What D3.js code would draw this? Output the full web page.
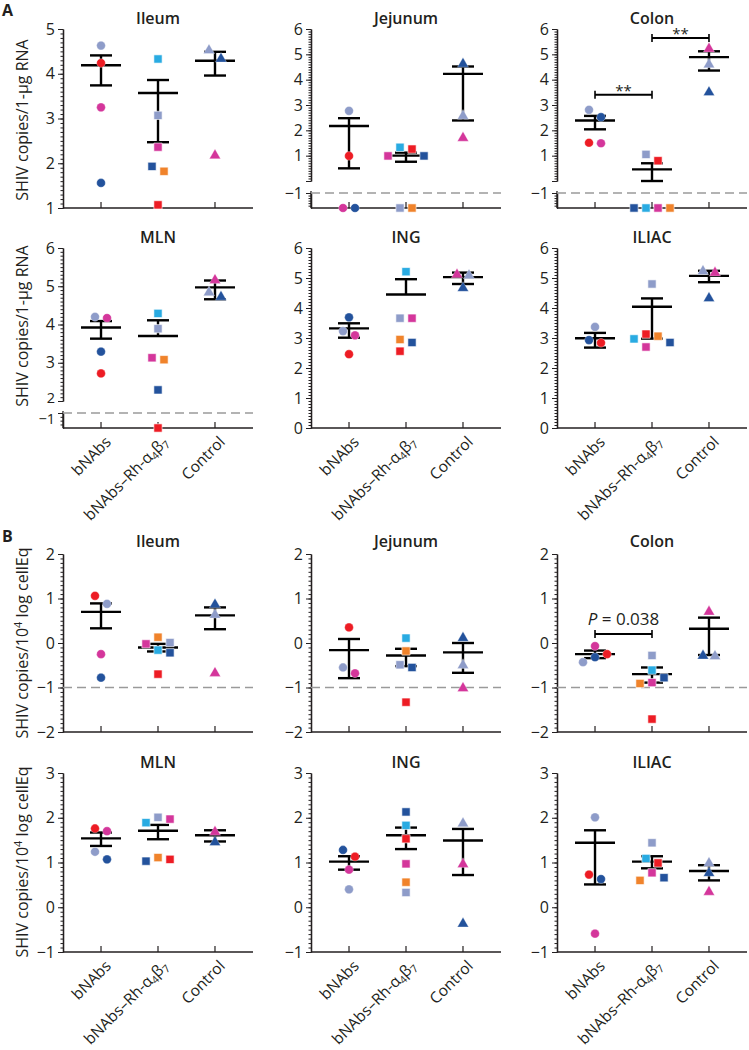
<!DOCTYPE html>
<html><head><meta charset="utf-8">
<script src="https://cdn.jsdelivr.net/npm/d3@7"></script>
<style>body{margin:0;background:#fff} svg{display:block}</style>
</head><body><svg id="c" width="749" height="1050"></svg>
<script>
// ---------- DATA ----------
const groups = ["bNAbs", "bNAbs–Rh-α4β7", "Control"];
const tissues = ["Ileum", "Jejunum", "Colon", "MLN", "ING", "ILIAC"];
const animalsBnabs = ["lav", "red", "mag", "dkb"];
const animalsRh = ["cyn", "lav", "mag", "dkb", "org", "red"];
const animalsCtrl = ["lav", "dkb", "mag"];
// "ND" = below detection (plotted on the baseline), null = no sample
// Panel A: SHIV copies / 1-ug RNA
const A_bnabs = [
  [4.63, 4.24, 3.25, 1.56],
  [2.77, 0.99, "ND", "ND"],
  [2.81, 1.51, 1.49, 2.52],
  [4.20, 2.72, 4.17, 3.29],
  [3.23, 2.46, 3.09, 3.69],
  [3.37, 2.84, null, 2.93]
];
const A_rh = [
  [4.33, 3.07, 2.36, 1.93, 1.82, 1.07],
  [1.33, "ND", 0.99, 0.99, "ND", 1.26],
  ["ND", 1.05, "ND", "ND", "ND", 0.80],
  [4.29, 3.89, 3.13, 2.29, 3.08, "ND"],
  [5.21, 3.66, 3.66, 2.85, 2.95, 2.56],
  [2.97, 4.80, 2.70, 2.85, 3.06, 3.13]
];
const A_ctrl = [
  [4.54, 4.35, 2.19],
  [2.60, 4.65, 1.73],
  [4.63, 3.53, 5.25],
  [4.86, 4.74, 5.18],
  [5.11, 4.69, 5.14],
  [5.25, 4.35, 5.20]
];
const A_mean  = [[4.19, 3.57, 4.29], [2.17, 1.00, 4.23], [2.39, 0.46, 4.89], [3.92, 3.70, 4.97], [3.32, 4.45, 5.03], [2.99, 4.04, 5.07]];
const A_upper = [[4.41, 3.86, 4.49], [2.48, 1.12, 4.52], [2.57, 0.70, 5.12], [4.09, 4.11, 5.15], [3.49, 4.96, 5.18], [3.17, 4.32, 5.24]];
const A_lower = [[3.74, 2.47, 3.96], [0.50, 0.76, 2.39], [2.04, 0.00, 4.36], [3.63, null, 4.66], [3.01, null, 4.80], [2.68, 2.98, 4.86]];
const A_yDomain = [[1, 5], [0, 6], [0, 6], [2, 6], [0, 6], [0, 6]];
const A_broken = [false, true, true, true, false, false];
const A_yTicks = [[1, 2, 3, 4, 5], [1, 2, 3, 4, 5, 6], [1, 2, 3, 4, 5, 6], [2, 3, 4, 5, 6], [0, 1, 2, 3, 4, 5, 6], [0, 1, 2, 3, 4, 5, 6]];
const A_sig = [
  {tissue: "Colon", from: 0, to: 1, value: 3.40, label: "**"},
  {tissue: "Colon", from: 1, to: 2, value: 5.64, label: "**"}
];
// Panel B: SHIV copies / 10^4 log cellEq
const B_bnabs = [
  [0.88, 1.06, -0.25, -0.78],
  [-0.55, 0.35, -0.68, null],
  [-0.43, -0.25, -0.07, -0.32],
  [1.24, 1.76, 1.70, 1.07],
  [0.40, 1.13, 0.84, 1.28],
  [2.01, 0.73, -0.59, 0.63]
];
const B_rh = [
  [-0.16, 0.01, -0.02, -0.22, 0.13, -0.70],
  [0.11, -0.49, null, -0.55, -0.18, -1.33],
  [-0.61, -0.28, -0.89, -0.78, -0.91, -1.71],
  [1.89, 2.01, 1.97, 1.03, 1.11, 1.07],
  [1.83, 0.33, 0.97, 2.13, 0.56, 1.53],
  [1.09, 1.44, 0.77, 0.66, 0.60, 0.99]
];
const B_ctrl = [
  [0.65, 0.88, -0.66],
  [-0.48, 0.13, -1.00],
  [-0.28, -0.27, 0.72],
  [null, 1.47, 1.70],
  [1.89, -0.35, 0.98],
  [1.00, 0.78, 0.36]
];
const B_mean  = [[0.70, -0.10, 0.62], [-0.16, -0.28, -0.21], [-0.25, -0.70, 0.32], [1.54, 1.71, 1.61], [1.02, 1.61, 1.49], [1.44, 1.02, 0.81]];
const B_upper = [[0.89, -0.02, 0.80], [0.09, -0.13, 0.00], [-0.17, -0.55, 0.57], [1.67, 1.84, 1.72], [1.14, 1.78, 1.75], [1.72, 1.14, 0.94]];
const B_lower = [[0.33, -0.19, 0.31], [-0.79, -0.52, -0.67], [-0.34, -0.89, -0.27], [1.37, 1.52, 1.47], [0.84, 1.30, 0.72], [0.51, 0.87, 0.60]];
const B_yDomain = [[-2, 2], [-2, 2], [-2, 2], [-1, 3], [-1, 3], [-1, 3]];
const B_yTicks = [[-2, -1, 0, 1, 2], [-2, -1, 0, 1, 2], [-2, -1, 0, 1, 2], [-1, 0, 1, 2, 3], [-1, 0, 1, 2, 3], [-1, 0, 1, 2, 3]];
const B_sig = [{tissue: "Colon", from: 0, to: 1, value: 0.20, label: "P = 0.038"}];

// ---------- STYLE / LAYOUT ----------
const animalColor = {lav: "#8e9cc9", red: "#ed1c24", mag: "#d4369b", dkb: "#23529c", cyn: "#29abe2", org: "#f0832b"};
const FONT = '"Open Sans", "Noto Sans", sans-serif';
const INK = "#231f20";
const XLEN = 190;
const colX = [63, 311, 557];
const svg = d3.select("#c");
const fmt = d => d < 0 ? "\u2212" + Math.abs(d) : String(d);
const shapes = [d3.symbolCircle, d3.symbolSquare, d3.symbolTriangle];
const shapeSize = [60, 68, 54];

function swarm(pts) {
  const order = pts.slice().sort((a, b) => a.py - b.py);
  const cands = [0];
  for (let k = 1; k < 10; k++) cands.push(k * 6, -k * 6);
  const placed = [];
  order.forEach(p => {
    for (const c of cands) {
      if (placed.every(q => Math.abs(q.py - p.py) >= 9.5 || Math.abs(q.dx - c) >= 11)) { p.dx = c; break; }
    }
    placed.push(p);
  });
  const seen = new Set();
  order.forEach(p => {
    if (seen.has(p)) return;
    const comp = [p]; seen.add(p);
    for (let i = 0; i < comp.length; i++) {
      order.forEach(q => { if (!seen.has(q) && Math.abs(q.py - comp[i].py) < 9.5) { seen.add(q); comp.push(q); } });
    }
    const mn = d3.min(comp, d => d.dx), mx = d3.max(comp, d => d.dx);
    const sh = (mn + mx) / 2;
    comp.forEach(d => d.dx -= sh);
  });
}

function styleAxis(sel) {
  sel.attr("font-family", FONT).attr("font-size", 16);
  sel.select(".domain").attr("stroke", INK).attr("stroke-width", 1.3);
  sel.selectAll(".tick line").attr("stroke", INK).attr("stroke-width", 1);
  sel.selectAll(".tick text").attr("fill", INK);
}

function drawPanel(cfg) {
  const {ax, top, bottom, domain, broken, ticks, vals, animals, mean, up, lo, title, titleY, dashed, sig, xlabels} = cfg;
  const g = svg.append("g");
  const x = d3.scalePoint().domain(groups).range([ax, ax + XLEN]).padding(0.667);
  const upperBottom = broken ? bottom - 27 : bottom;
  const y = d3.scaleLinear().domain(domain).range([upperBottom, top]);
  const ppu = (upperBottom - top) / (domain[1] - domain[0]);
  const lowMin = -1 - 15 / ppu;
  const yLow = d3.scaleLinear().domain([lowMin, -1]).range([bottom, bottom - 15]);
  const Y = v => v === "ND" ? bottom : (broken && v < domain[0] ? yLow(v) : y(v));
  const crowded = broken && ticks.includes(domain[0]);

  const minor = d3.range(Math.round(domain[0] * 10), Math.round(domain[1] * 10) + 1).map(i => i / 10);
  g.append("g").attr("transform", `translate(${ax},0)`)
    .call(d3.axisLeft(y).tickValues(minor).tickSize(2.5).tickSizeOuter(0).tickFormat(""))
    .call(styleAxis);
  g.append("g").attr("transform", `translate(${ax},0)`)
    .call(d3.axisLeft(y).tickValues(d3.range(domain[0], domain[1] + 1e-9, 1)).tickSize(5).tickSizeOuter(0)
      .tickPadding(3).tickFormat(d => ticks.includes(d) ? fmt(d) : ""))
    .call(styleAxis)
    .call(s => { if (crowded) s.selectAll(".tick text").filter(d => d === domain[0]).attr("dy", "0.1em").attr("font-size", 14.5); });
  if (broken) {
    const lm = d3.range(-10, Math.round(lowMin * 10) - 1, -1).map(i => i / 10).filter(v => v >= lowMin);
    g.append("g").attr("transform", `translate(${ax},0)`)
      .call(d3.axisLeft(yLow).tickValues(lm).tickSize(2.5).tickSizeOuter(0).tickFormat(""))
      .call(styleAxis);
    g.append("g").attr("transform", `translate(${ax},0)`)
      .call(d3.axisLeft(yLow).tickValues([-1]).tickSize(5).tickSizeOuter(0).tickPadding(3).tickFormat(fmt))
      .call(styleAxis)
      .call(s => { if (crowded) s.selectAll(".tick text").attr("dy", "0.7em").attr("font-size", 14.5); });
    g.append("line").attr("x1", ax).attr("x2", ax).attr("y1", yLow(-1) - 2).attr("y2", bottom)
      .attr("stroke", INK).attr("stroke-width", 1.3);
  }
  g.append("line").attr("x1", ax).attr("x2", ax + XLEN).attr("y1", bottom).attr("y2", bottom)
    .attr("stroke", INK).attr("stroke-width", 1.3);
  groups.forEach(gr => g.append("line").attr("x1", x(gr)).attr("x2", x(gr)).attr("y1", bottom).attr("y2", bottom - 6)
    .attr("stroke", INK).attr("stroke-width", 1.2));
  if (dashed) {
    g.append("line").attr("x1", ax).attr("x2", ax + XLEN).attr("y1", Y(-1)).attr("y2", Y(-1))
      .attr("stroke", "#9a9a9a").attr("stroke-width", 1.6).attr("stroke-dasharray", "9,5");
  }
  groups.forEach((gr, gi) => {
    const cx = x(gr);
    const m = mean[gi], u = up[gi], l = lo[gi];
    const bot = l === null ? m : l;
    g.append("line").attr("x1", cx).attr("x2", cx).attr("y1", Y(u)).attr("y2", Y(bot)).attr("stroke", "#000").attr("stroke-width", 2.4);
    g.append("line").attr("x1", cx - 20).attr("x2", cx + 20).attr("y1", Y(m)).attr("y2", Y(m)).attr("stroke", "#000").attr("stroke-width", 2.4);
    g.append("line").attr("x1", cx - 11).attr("x2", cx + 11).attr("y1", Y(u)).attr("y2", Y(u)).attr("stroke", "#000").attr("stroke-width", 2.4);
    if (l !== null) g.append("line").attr("x1", cx - 11).attr("x2", cx + 11).attr("y1", Y(l)).attr("y2", Y(l)).attr("stroke", "#000").attr("stroke-width", 2.4);
  });
  groups.forEach((gr, gi) => {
    const pts = [];
    vals[gi].forEach((v, i) => { if (v !== null) pts.push({v, animal: animals[gi][i], py: Y(v), dx: 0}); });
    swarm(pts);
    g.selectAll(null).data(pts).enter().append("path")
      .attr("d", d3.symbol().type(shapes[gi]).size(shapeSize[gi]))
      .attr("transform", d => `translate(${x(gr) + d.dx},${d.py + (gi === 2 ? 0.8 : 0)})`)
      .attr("fill", d => animalColor[d.animal])
      .attr("stroke", "#fff").attr("stroke-width", gi === 1 ? 0.6 : 0.3);
  });
  sig.filter(s => s.tissue === title).forEach(s => {
    const x1 = x(groups[s.from]), x2 = x(groups[s.to]), yy = Y(s.value);
    g.append("line").attr("x1", x1).attr("x2", x2).attr("y1", yy).attr("y2", yy).attr("stroke", "#000").attr("stroke-width", 2);
    [x1, x2].forEach(xx => g.append("line").attr("x1", xx).attr("x2", xx).attr("y1", yy - 4).attr("y2", yy + 4).attr("stroke", "#000").attr("stroke-width", 1.6));
    if (s.label === "**") {
      g.append("text").attr("x", (x1 + x2) / 2).attr("y", yy + 1).attr("text-anchor", "middle")
        .attr("font-family", FONT).attr("font-size", 15).attr("fill", INK).text(s.label);
    } else {
      const t = g.append("text").attr("x", (x1 + x2) / 2).attr("y", yy - 9).attr("text-anchor", "middle")
        .attr("font-family", FONT).attr("font-size", 17).attr("fill", INK);
      const parts = s.label.split(" ");
      t.append("tspan").attr("font-style", "italic").text(parts[0]);
      t.append("tspan").text(" " + parts.slice(1).join(" "));
    }
  });
  g.append("text").attr("x", x(groups[1])).attr("y", titleY).attr("text-anchor", "middle")
    .attr("font-family", FONT).attr("font-size", 16).attr("font-weight", 600).attr("fill", INK).text(title);
  if (xlabels) {
    groups.forEach(gr => {
      const t = g.append("text").attr("text-anchor", "end")
        .attr("transform", `translate(${x(gr) + 11},${bottom + 15}) rotate(-45)`)
        .attr("font-family", FONT).attr("font-size", 15.5).attr("fill", INK);
      const m = gr.match(/^(.*α)4β7$/);
      if (m) {
        t.append("tspan").text(m[1]);
        t.append("tspan").attr("font-size", 10.5).attr("dy", 3).text("4");
        t.append("tspan").attr("dy", -3).text("β");
        t.append("tspan").attr("font-size", 10.5).attr("dy", 3).text("7");
      } else t.text(gr);
    });
  }
}

const rowA = [{top: 29, bottom: 208, titleY: 24}, {top: 248, bottom: 428, titleY: 243}];
const rowB = [{top: 554, bottom: 732, titleY: 547}, {top: 773, bottom: 952, titleY: 768}];

tissues.forEach((t, i) => {
  const r = rowA[Math.floor(i / 3)];
  drawPanel({ax: colX[i % 3], top: r.top, bottom: r.bottom, titleY: r.titleY, domain: A_yDomain[i], broken: A_broken[i],
    ticks: A_yTicks[i], vals: [A_bnabs[i], A_rh[i], A_ctrl[i]], animals: [animalsBnabs, animalsRh, animalsCtrl],
    mean: A_mean[i], up: A_upper[i], lo: A_lower[i], title: t, dashed: A_broken[i], sig: A_sig, xlabels: i >= 3});
});
tissues.forEach((t, i) => {
  const r = rowB[Math.floor(i / 3)];
  drawPanel({ax: colX[i % 3], top: r.top, bottom: r.bottom, titleY: r.titleY, domain: B_yDomain[i], broken: false,
    ticks: B_yTicks[i], vals: [B_bnabs[i], B_rh[i], B_ctrl[i]], animals: [animalsBnabs, animalsRh, animalsCtrl],
    mean: B_mean[i], up: B_upper[i], lo: B_lower[i], title: t, dashed: i < 3, sig: B_sig, xlabels: i >= 3});
});

function yTitle(cy, sup) {
  const t = svg.append("text").attr("transform", `translate(28,${cy}) rotate(-90)`).attr("text-anchor", "middle")
    .attr("font-family", FONT).attr("font-size", 16).attr("fill", INK);
  if (sup) {
    t.append("tspan").text("SHIV copies/10");
    t.append("tspan").attr("font-size", 11).attr("dy", -6).text("4");
    t.append("tspan").attr("dy", 6).text(" log cellEq");
  } else t.text("SHIV copies/1-\u03bcg RNA");
}
yTitle(120, false); yTitle(326, false); yTitle(643, true); yTitle(862, true);

svg.append("text").attr("x", 2).attr("y", 16).attr("font-family", FONT).attr("font-size", 16).attr("font-weight", 700).attr("fill", INK).text("A");
svg.append("text").attr("x", 2).attr("y", 542).attr("font-family", FONT).attr("font-size", 16).attr("font-weight", 700).attr("fill", INK).text("B");
</script></body></html>
